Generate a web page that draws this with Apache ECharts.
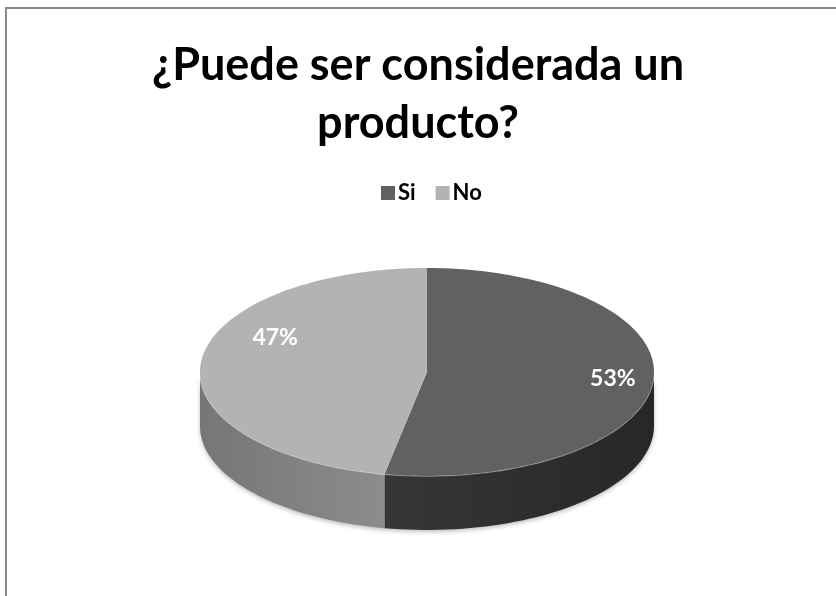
<!DOCTYPE html>
<html>
<head>
<meta charset="utf-8">
<script src="https://cdn.jsdelivr.net/npm/echarts@6/dist/echarts.min.js"></script>
<style>
  html, body { margin: 0; padding: 0; background: #fff; }
  #chart { width: 836px; height: 596px; }
</style>
</head>
<body>
<div id="chart"></div>
<script>
// datos
const categories = ['Si', 'No'];
const values = [53, 47];
const labels = ['53%', '47%'];

// estilo
const topColors = ['#616161', '#b3b3b3'];
const sideColors = [['#363636', '#272727'], ['#767676', '#8c8c8c']];
const labelNudge = [[-4, -2], [38, -26]];
const pie = { cx: 427, cy: 372, rx: 227, ry: 104, depth: 54 };

const total = values.reduce((a, b) => a + b, 0);
const starts = [];
let acc = 0;
values.forEach(v => { starts.push(acc); acc += v; });

function pt(t, dy) {
  const r = t * Math.PI / 180;
  return [pie.cx + pie.rx * Math.cos(r), pie.cy - pie.ry * Math.sin(r) + (dy || 0)];
}

function arc(t0, t1, dy) {
  const pts = [];
  const n = Math.max(2, Math.ceil(Math.abs(t1 - t0) / 2));
  for (let i = 0; i <= n; i++) pts.push(pt(t0 + (t1 - t0) * i / n, dy));
  return pts;
}

function makeRender(idx) {
  return function (params, api) {
    const a0 = 90 - starts[idx] / total * 360;       // angulo inicial
    const a1 = a0 - values[idx] / total * 360;       // sentido horario
    const children = [];

    // pared lateral visible (mitad frontal)
    for (let k = -1; k <= 1; k++) {
      const lo = Math.max(a1, -180 + 360 * k);
      const hi = Math.min(a0, 360 * k);
      if (lo < hi) {
        const topArc = arc(hi, lo, 0);
        const botArc = arc(lo, hi, pie.depth);
        children.push({
          type: 'polygon',
          shape: { points: topArc.concat(botArc) },
          style: {
            fill: new echarts.graphic.LinearGradient(0, 0, 1, 0, [
              { offset: 0, color: sideColors[idx][0] },
              { offset: 1, color: sideColors[idx][1] }
            ]),
            shadowBlur: 4,
            shadowColor: 'rgba(0,0,0,0.25)',
            shadowOffsetY: 2
          }
        });
        children.push({
          type: 'polyline',
          shape: { points: topArc },
          style: { stroke: 'rgba(255,255,255,0.45)', lineWidth: 1.5, fill: null }
        });
      }
    }

    // cara superior
    children.push({
      type: 'polygon',
      shape: { points: [[pie.cx, pie.cy]].concat(arc(a0, a1, 0)) },
      style: { fill: topColors[idx] }
    });

    // etiqueta
    const mid = (a0 + a1) / 2;
    const p = pt(mid, 0);
    const lx = pie.cx + (p[0] - pie.cx) * 0.84 + labelNudge[idx][0];
    const ly = pie.cy + (p[1] - pie.cy) * 0.84 + labelNudge[idx][1];
    children.push({
      type: 'text',
      style: {
        x: lx, y: ly,
        text: labels[idx],
        fill: '#fff',
        font: 'bold 23px Lato',
        align: 'center',
        verticalAlign: 'middle'
      },
      z2: 10
    });

    return { type: 'group', children: children };
  };
}

const chart = echarts.init(document.getElementById('chart'));
chart.setOption({
  animation: false,
  title: {
    text: '¿Puede ser considerada un\nproducto?',
    left: 'center',
    top: 31,
    textStyle: {
      fontFamily: 'Lato',
      fontWeight: 'bold',
      fontSize: 45,
      lineHeight: 58,
      color: '#000'
    }
  },
  legend: {
    top: 177,
    left: 376,
    icon: 'rect',
    itemWidth: 14,
    itemHeight: 14,
    itemGap: 20,
    data: categories,
    textStyle: { fontFamily: 'Lato', fontWeight: 'bold', fontSize: 22, color: '#000', padding: [0, 0, 0, -2] }
  },
  graphic: [{
    type: 'rect',
    shape: { x: 6, y: 8, width: 900, height: 700 },
    style: { fill: null, stroke: '#8a8a8a', lineWidth: 2 },
    silent: true
  }],
  series: categories.map((name, i) => ({
    type: 'custom',
    name: name,
    coordinateSystem: 'none',
    itemStyle: { color: topColors[i] },
    renderItem: makeRender(i),
    data: [[values[i]]]
  }))
});
</script>
</body>
</html>
